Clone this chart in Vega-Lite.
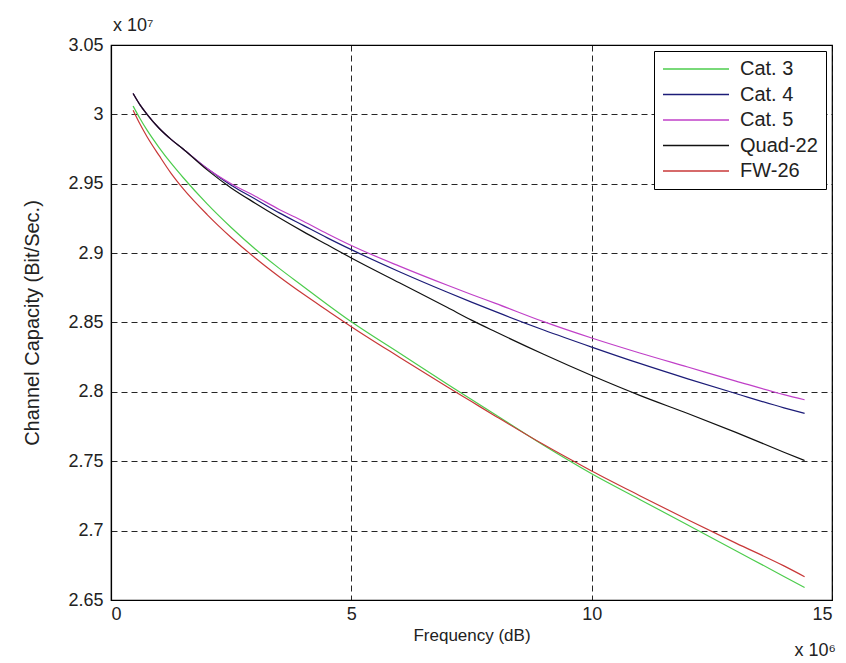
{
  "$schema": "https://vega.github.io/schema/vega-lite/v6.json",
  "width": 721,
  "height": 555,
  "autosize": {"type": "none"},
  "padding": {"left": 111, "top": 45, "right": 14, "bottom": 63},
  "background": "white",
  "title": {"text": "x 10⁷", "anchor": "start", "frame": "group", "offset": 1, "fontSize": 18, "font": "Liberation Sans", "fontWeight": "normal", "color": "#222", "dx": 2},
  "config": {
    "font": "Liberation Sans",
    "view": {"stroke": "#000", "strokeWidth": 1.2},
    "axis": {
      "domainColor": "#000", "domainWidth": 1.2,
      "grid": true, "gridColor": "#000", "gridDash": [6, 4], "gridOpacity": 0.85, "gridWidth": 1,
      "ticks": false,
      "labelFont": "Liberation Sans", "labelFontSize": 18, "labelColor": "#222",
      "titleFont": "Liberation Sans", "titleFontSize": 17, "titleFontWeight": "normal", "titleColor": "#222"
    }
  },
  "data": {"values": [
    {"freq": 0.46, "series": "Cat. 3", "capacity": 3.006},
    {"freq": 0.6, "series": "Cat. 3", "capacity": 2.9972},
    {"freq": 0.75, "series": "Cat. 3", "capacity": 2.9886},
    {"freq": 1.0, "series": "Cat. 3", "capacity": 2.9761},
    {"freq": 1.25, "series": "Cat. 3", "capacity": 2.9648},
    {"freq": 1.5, "series": "Cat. 3", "capacity": 2.9545},
    {"freq": 2.0, "series": "Cat. 3", "capacity": 2.9355},
    {"freq": 2.5, "series": "Cat. 3", "capacity": 2.9185},
    {"freq": 3.0, "series": "Cat. 3", "capacity": 2.903},
    {"freq": 3.5, "series": "Cat. 3", "capacity": 2.889},
    {"freq": 4.0, "series": "Cat. 3", "capacity": 2.876},
    {"freq": 4.5, "series": "Cat. 3", "capacity": 2.863},
    {"freq": 5.0, "series": "Cat. 3", "capacity": 2.8505},
    {"freq": 6.0, "series": "Cat. 3", "capacity": 2.828},
    {"freq": 7.0, "series": "Cat. 3", "capacity": 2.8055},
    {"freq": 7.5, "series": "Cat. 3", "capacity": 2.7945},
    {"freq": 8.0, "series": "Cat. 3", "capacity": 2.7835},
    {"freq": 9.0, "series": "Cat. 3", "capacity": 2.7615},
    {"freq": 10.0, "series": "Cat. 3", "capacity": 2.741},
    {"freq": 11.0, "series": "Cat. 3", "capacity": 2.7225},
    {"freq": 12.0, "series": "Cat. 3", "capacity": 2.704},
    {"freq": 13.0, "series": "Cat. 3", "capacity": 2.6855},
    {"freq": 14.0, "series": "Cat. 3", "capacity": 2.667},
    {"freq": 14.43, "series": "Cat. 3", "capacity": 2.659},

    {"freq": 0.46, "series": "Cat. 4", "capacity": 3.015},
    {"freq": 0.6, "series": "Cat. 4", "capacity": 3.007},
    {"freq": 0.75, "series": "Cat. 4", "capacity": 3.0},
    {"freq": 1.0, "series": "Cat. 4", "capacity": 2.99},
    {"freq": 1.25, "series": "Cat. 4", "capacity": 2.982},
    {"freq": 1.5, "series": "Cat. 4", "capacity": 2.975},
    {"freq": 2.0, "series": "Cat. 4", "capacity": 2.961},
    {"freq": 2.5, "series": "Cat. 4", "capacity": 2.949},
    {"freq": 3.0, "series": "Cat. 4", "capacity": 2.939},
    {"freq": 3.5, "series": "Cat. 4", "capacity": 2.929},
    {"freq": 4.0, "series": "Cat. 4", "capacity": 2.92},
    {"freq": 4.5, "series": "Cat. 4", "capacity": 2.911},
    {"freq": 5.0, "series": "Cat. 4", "capacity": 2.9025},
    {"freq": 6.0, "series": "Cat. 4", "capacity": 2.8866},
    {"freq": 7.0, "series": "Cat. 4", "capacity": 2.8718},
    {"freq": 7.5, "series": "Cat. 4", "capacity": 2.8647},
    {"freq": 8.0, "series": "Cat. 4", "capacity": 2.8578},
    {"freq": 9.0, "series": "Cat. 4", "capacity": 2.8446},
    {"freq": 10.0, "series": "Cat. 4", "capacity": 2.8323},
    {"freq": 11.0, "series": "Cat. 4", "capacity": 2.8205},
    {"freq": 12.0, "series": "Cat. 4", "capacity": 2.8094},
    {"freq": 13.0, "series": "Cat. 4", "capacity": 2.7988},
    {"freq": 14.0, "series": "Cat. 4", "capacity": 2.7885},
    {"freq": 14.43, "series": "Cat. 4", "capacity": 2.7845},

    {"freq": 0.46, "series": "Cat. 5", "capacity": 3.015},
    {"freq": 0.6, "series": "Cat. 5", "capacity": 3.007},
    {"freq": 0.75, "series": "Cat. 5", "capacity": 3.0},
    {"freq": 1.0, "series": "Cat. 5", "capacity": 2.99},
    {"freq": 1.25, "series": "Cat. 5", "capacity": 2.982},
    {"freq": 1.5, "series": "Cat. 5", "capacity": 2.975},
    {"freq": 2.0, "series": "Cat. 5", "capacity": 2.961},
    {"freq": 2.5, "series": "Cat. 5", "capacity": 2.95},
    {"freq": 3.0, "series": "Cat. 5", "capacity": 2.941},
    {"freq": 3.5, "series": "Cat. 5", "capacity": 2.9315},
    {"freq": 4.0, "series": "Cat. 5", "capacity": 2.923},
    {"freq": 4.5, "series": "Cat. 5", "capacity": 2.914},
    {"freq": 5.0, "series": "Cat. 5", "capacity": 2.9055},
    {"freq": 6.0, "series": "Cat. 5", "capacity": 2.8906},
    {"freq": 7.0, "series": "Cat. 5", "capacity": 2.8768},
    {"freq": 7.5, "series": "Cat. 5", "capacity": 2.8702},
    {"freq": 8.0, "series": "Cat. 5", "capacity": 2.8638},
    {"freq": 9.0, "series": "Cat. 5", "capacity": 2.8506},
    {"freq": 10.0, "series": "Cat. 5", "capacity": 2.8388},
    {"freq": 11.0, "series": "Cat. 5", "capacity": 2.828},
    {"freq": 12.0, "series": "Cat. 5", "capacity": 2.8179},
    {"freq": 13.0, "series": "Cat. 5", "capacity": 2.8078},
    {"freq": 14.0, "series": "Cat. 5", "capacity": 2.798},
    {"freq": 14.43, "series": "Cat. 5", "capacity": 2.7943},

    {"freq": 0.46, "series": "Quad-22", "capacity": 3.015},
    {"freq": 0.6, "series": "Quad-22", "capacity": 3.007},
    {"freq": 0.75, "series": "Quad-22", "capacity": 3.0},
    {"freq": 1.0, "series": "Quad-22", "capacity": 2.99},
    {"freq": 1.25, "series": "Quad-22", "capacity": 2.982},
    {"freq": 1.5, "series": "Quad-22", "capacity": 2.975},
    {"freq": 2.0, "series": "Quad-22", "capacity": 2.96},
    {"freq": 2.5, "series": "Quad-22", "capacity": 2.947},
    {"freq": 3.0, "series": "Quad-22", "capacity": 2.936},
    {"freq": 3.5, "series": "Quad-22", "capacity": 2.9255},
    {"freq": 4.0, "series": "Quad-22", "capacity": 2.9155},
    {"freq": 4.5, "series": "Quad-22", "capacity": 2.906},
    {"freq": 5.0, "series": "Quad-22", "capacity": 2.8965},
    {"freq": 6.0, "series": "Quad-22", "capacity": 2.8786},
    {"freq": 7.0, "series": "Quad-22", "capacity": 2.8608},
    {"freq": 7.5, "series": "Quad-22", "capacity": 2.8517},
    {"freq": 8.0, "series": "Quad-22", "capacity": 2.8433},
    {"freq": 9.0, "series": "Quad-22", "capacity": 2.8271},
    {"freq": 10.0, "series": "Quad-22", "capacity": 2.8118},
    {"freq": 11.0, "series": "Quad-22", "capacity": 2.7975},
    {"freq": 12.0, "series": "Quad-22", "capacity": 2.7844},
    {"freq": 13.0, "series": "Quad-22", "capacity": 2.7708},
    {"freq": 14.0, "series": "Quad-22", "capacity": 2.7565},
    {"freq": 14.43, "series": "Quad-22", "capacity": 2.7505},

    {"freq": 0.46, "series": "FW-26", "capacity": 3.003},
    {"freq": 0.6, "series": "FW-26", "capacity": 2.9932},
    {"freq": 0.75, "series": "FW-26", "capacity": 2.9839},
    {"freq": 1.0, "series": "FW-26", "capacity": 2.9704},
    {"freq": 1.25, "series": "FW-26", "capacity": 2.9575},
    {"freq": 1.5, "series": "FW-26", "capacity": 2.9465},
    {"freq": 2.0, "series": "FW-26", "capacity": 2.9278},
    {"freq": 2.5, "series": "FW-26", "capacity": 2.9113},
    {"freq": 3.0, "series": "FW-26", "capacity": 2.8965},
    {"freq": 3.5, "series": "FW-26", "capacity": 2.883},
    {"freq": 4.0, "series": "FW-26", "capacity": 2.8705},
    {"freq": 4.5, "series": "FW-26", "capacity": 2.8587},
    {"freq": 5.0, "series": "FW-26", "capacity": 2.847},
    {"freq": 6.0, "series": "FW-26", "capacity": 2.825},
    {"freq": 7.0, "series": "FW-26", "capacity": 2.8035},
    {"freq": 7.5, "series": "FW-26", "capacity": 2.793},
    {"freq": 8.0, "series": "FW-26", "capacity": 2.7825},
    {"freq": 9.0, "series": "FW-26", "capacity": 2.762},
    {"freq": 10.0, "series": "FW-26", "capacity": 2.743},
    {"freq": 11.0, "series": "FW-26", "capacity": 2.7252},
    {"freq": 12.0, "series": "FW-26", "capacity": 2.7078},
    {"freq": 13.0, "series": "FW-26", "capacity": 2.691},
    {"freq": 14.0, "series": "FW-26", "capacity": 2.6746},
    {"freq": 14.43, "series": "FW-26", "capacity": 2.6668}
  ]},
  "layer": [
    {
      "mark": {"type": "line", "strokeWidth": 1.2, "interpolate": "monotone"},
      "encoding": {
        "x": {"field": "freq", "type": "quantitative",
              "scale": {"domain": [0, 15], "nice": false, "zero": false},
              "axis": {"values": [0, 5, 10, 15], "format": "d", "title": "Frequency (dB)", "labelPadding": 5, "titlePadding": 4}},
        "y": {"field": "capacity", "type": "quantitative",
              "scale": {"domain": [2.65, 3.05], "nice": false, "zero": false},
              "axis": {"values": [2.65, 2.7, 2.75, 2.8, 2.85, 2.9, 2.95, 3.0, 3.05], "format": ".2~f", "title": "Channel Capacity (Bit/Sec.)", "titleFontSize": 20, "labelPadding": 8, "titlePadding": 25}},
        "color": {"field": "series", "type": "nominal",
                  "scale": {"domain": ["Cat. 3", "Cat. 4", "Cat. 5", "Quad-22", "FW-26"],
                            "range": ["#4ccc4c", "#1c1c78", "#c040c8", "#111111", "#c83838"]},
                  "legend": {"title": null, "orient": "top-right", "offset": 6, "strokeColor": "#000", "fillColor": "white",
                             "padding": 8, "labelFontSize": 20, "labelColor": "#222", "labelFont": "Liberation Sans",
                             "symbolType": "stroke", "symbolSize": 4356, "symbolStrokeWidth": 1.3, "labelOffset": 10,
                             "clipHeight": 20, "rowPadding": 5.5}}
      }
    },
    {
      "data": {"values": [{"label": "x 10⁶"}]},
      "mark": {"type": "text", "align": "right", "baseline": "middle", "dx": 4, "dy": 51, "fontSize": 18, "font": "Liberation Sans", "color": "#222"},
      "encoding": {
        "x": {"datum": 15},
        "y": {"datum": 2.65},
        "text": {"field": "label"}
      }
    }
  ]
}
